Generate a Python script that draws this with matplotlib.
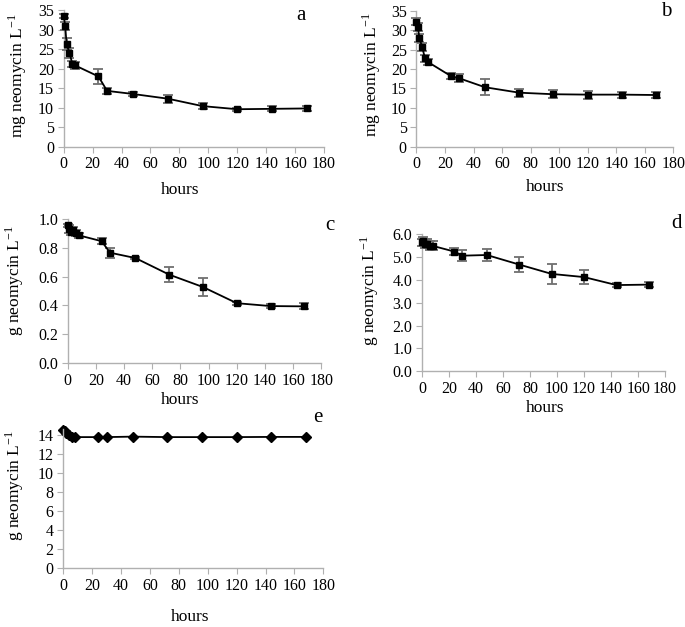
import numpy as np
import matplotlib
matplotlib.use("Agg")
import matplotlib.pyplot as plt

plt.rcParams["font.family"] = ["Liberation Serif", "DejaVu Serif"]
plt.rcParams["mathtext.fontset"] = "stix"

# sampling times (hours)
hours = [0, 1, 2, 4, 6, 8, 24, 30, 48, 72, 96, 120, 144, 168]

# panel a (mg/L)
a_val = [33.5, 31.0, 26.3, 24.0, 21.2, 20.8, 18.0, 14.3, 13.5, 12.3, 10.4, 9.6, 9.7, 9.8]
a_err = [0.5, 1.0, 1.5, 1.3, 0.8, 0.8, 2.0, 0.8, 0.6, 1.0, 0.8, 0.4, 0.6, 0.7]

# panel b (mg/L)
b_val = [32.2, 30.8, 28.0, 25.6, 22.7, 21.8, 18.2, 17.6, 15.3, 13.9, 13.5, 13.4, 13.4, 13.3]
b_err = [0.8, 1.0, 1.0, 1.0, 0.8, 0.8, 0.8, 1.0, 2.0, 1.0, 1.0, 1.0, 0.8, 0.7]

# panel c (g/L)
c_val = [0.955, 0.93, 0.91, 0.92, 0.90, 0.885, 0.845, 0.765, 0.728, 0.613, 0.527, 0.415, 0.395, 0.393]
c_err = [0.01, 0.03, 0.02, 0.02, 0.02, 0.02, 0.02, 0.035, 0.01, 0.05, 0.06, 0.01, 0.015, 0.02]

# panel d (g/L)
d_val = [5.65, 5.7, 5.6, 5.6, 5.5, 5.5, 5.25, 5.07, 5.1, 4.68, 4.27, 4.13, 3.78, 3.8]
d_err = [0.15, 0.2, 0.2, 0.2, 0.2, 0.2, 0.17, 0.25, 0.25, 0.33, 0.45, 0.3, 0.08, 0.1]

# panel e (g/L)
e_val = [14.5, 14.4, 14.2, 14.0, 13.85, 13.8, 13.8, 13.8, 13.85, 13.8, 13.8, 13.8, 13.82, 13.82]

fig = plt.figure(figsize=(6.85, 6.27), dpi=100)

ax_a = fig.add_axes([0.093, 0.766, 0.380, 0.218])
ax_b = fig.add_axes([0.608, 0.766, 0.375, 0.217])
ax_c = fig.add_axes([0.099, 0.421, 0.370, 0.230])
ax_d = fig.add_axes([0.616, 0.408, 0.355, 0.218])
ax_e = fig.add_axes([0.0924, 0.0936, 0.3796, 0.2214])

gray = "#b0b0b0"


def style(ax, ylim, yticks, fmt):
    ax.set_xlim(0, 180)
    ax.set_xticks(range(0, 181, 20))
    ax.set_ylim(*ylim)
    ax.set_yticks(yticks)
    ax.set_yticklabels([fmt.format(t) for t in yticks])
    for s in ["top", "right"]:
        ax.spines[s].set_visible(False)
    for s in ["left", "bottom"]:
        ax.spines[s].set_color(gray)
        ax.spines[s].set_linewidth(1.0)
    ax.tick_params(axis="both", direction="out", length=4, color=gray,
                   labelsize=11.5, pad=3)
    ax.spines["bottom"].set_zorder(0)


def draw(ax, y, err):
    ax.errorbar(hours, y, yerr=err, color="black", lw=1.3, marker="s",
                ms=4.5, ecolor="#707070", elinewidth=1.3, capsize=3.5,
                capthick=1.3, clip_on=False, zorder=3)


draw(ax_a, a_val, a_err)
style(ax_a, (0, 35), list(range(0, 36, 5)), "{:d}")
draw(ax_b, b_val, b_err)
style(ax_b, (0, 35), list(range(0, 36, 5)), "{:d}")
draw(ax_c, c_val, c_err)
style(ax_c, (0, 1.0), [0.0, 0.2, 0.4, 0.6, 0.8, 1.0], "{:.1f}")
draw(ax_d, d_val, d_err)
style(ax_d, (0, 6.0), [0.0, 1.0, 2.0, 3.0, 4.0, 5.0, 6.0], "{:.1f}")

ax_e.plot(hours, e_val, color="black", lw=1.3, marker="D", ms=5, clip_on=False)
style(ax_e, (0, 14.6), list(range(0, 15, 2)), "{:d}")

W, H = 685, 627


def ftext(x, y, s, **kw):
    fig.text(x / W, 1 - y / H, s, ha="center", va="center", **kw)


ylab_mg = r"mg neomycin L$^{\mathregular{-1}}$"
ylab_g = r"g neomycin L$^{\mathregular{-1}}$"

ftext(18, 76, ylab_mg, rotation=90, fontsize=12.5)
ftext(372, 75, ylab_mg, rotation=90, fontsize=12.5)
ftext(15, 280, ylab_g, rotation=90, fontsize=12.5)
ftext(370, 290, ylab_g, rotation=90, fontsize=12.5)
ftext(15, 485, ylab_g, rotation=90, fontsize=12.5)

ftext(180, 190, "hours", fontsize=12.5)
ftext(545, 187, "hours", fontsize=12.5)
ftext(180, 400, "hours", fontsize=12.5)
ftext(545, 408, "hours", fontsize=12.5)
ftext(190, 617, "hours", fontsize=12.5)

ftext(301, 15, "a", fontsize=15)
ftext(666, 12, "b", fontsize=15)
ftext(330, 225, "c", fontsize=15)
ftext(677, 223, "d", fontsize=15)
ftext(318, 417, "e", fontsize=15)

fig.savefig("out.png", dpi=100)
